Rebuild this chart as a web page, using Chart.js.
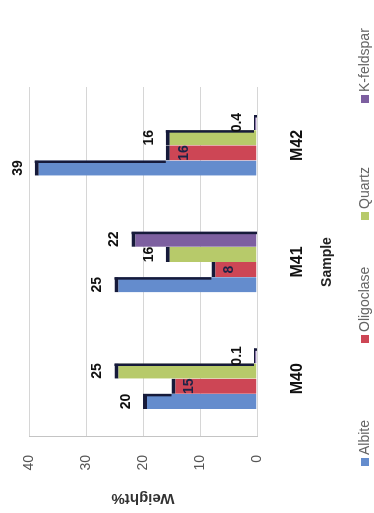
<!DOCTYPE html>
<html>
<head>
<meta charset="utf-8">
<script src="https://cdn.jsdelivr.net/npm/chart.js@4.4.0/dist/chart.umd.min.js"></script>
<style>
html, body { margin: 0; padding: 0; background: #fff; overflow: hidden; }
/* chart is drawn upright, then turned a quarter left like the scan */
#wrap { position: absolute; left: 0; top: 0; width: 513px; height: 374px;
        transform-origin: 0 0; transform: translateY(513px) rotate(-90deg); }
</style>
</head>
<body>
<div id="wrap"><canvas id="c" width="513" height="374"></canvas></div>
<script>
const samples = ['M40', 'M41', 'M42'];
const albite = [20, 25, 39];
const oligoclase = [15, 8, 16];
const quartz = [25, 16, 16];
const kfeldspar = [0.1, 22, 0.4];
const yMax = 40;
const yStep = 10;

const FONT = '"Liberation Sans", Arial, sans-serif';
Chart.defaults.font.family = FONT;
const edge = '#161a3a';

// dark side edge where a bar sticks out above its right-hand neighbour (fake 3D)
const sideEdges = {
    id: 'sideEdges',
    afterDatasetsDraw(chart) {
        const ctx = chart.ctx;
        const n = chart.data.datasets.length;
        const base = chart.scales.y.getPixelForValue(0);
        ctx.save();
        ctx.fillStyle = edge;
        for (let i = 0; i < n; i++) {
            chart.getDatasetMeta(i).data.forEach((bar, j) => {
                const stop = i < n - 1 ? chart.getDatasetMeta(i + 1).data[j].y : base;
                if (stop > bar.y) ctx.fillRect(bar.x + bar.width / 2 - 2.5, bar.y, 2.5, stop - bar.y);
            });
        }
        ctx.restore();
    }
};

// value labels: above the bar top, oligoclase ones sit just inside
const valueLabels = {
    id: 'valueLabels',
    afterDatasetsDraw(chart) {
        const ctx = chart.ctx;
        ctx.save();
        ctx.font = 'bold 14px ' + FONT;
        ctx.textAlign = 'center';
        ctx.textBaseline = 'middle';
        chart.data.datasets.forEach((ds, i) => {
            const inside = ds.label === 'Oligoclase';
            chart.getDatasetMeta(i).data.forEach((bar, j) => {
                ctx.fillStyle = inside ? '#1c2347' : '#111';
                ctx.fillText(String(ds.data[j]), bar.x, inside ? bar.y + 18 : bar.y - 17);
            });
        });
        ctx.restore();
    }
};

// legend spread out like the Excel one
const legendX = [47, 170, 293, 410];
const spreadLegend = {
    id: 'spreadLegend',
    afterDraw(chart) {
        const ctx = chart.ctx;
        const y = 365;
        ctx.save();
        ctx.font = '14px ' + FONT;
        ctx.textBaseline = 'middle';
        ctx.textAlign = 'left';
        chart.data.datasets.forEach((ds, i) => {
            ctx.fillStyle = ds.backgroundColor;
            ctx.fillRect(legendX[i], y - 4, 8, 8);
            ctx.fillStyle = '#666';
            ctx.fillText(ds.label, legendX[i] + 11, y);
        });
        ctx.restore();
    }
};

const barStyle = { borderColor: edge, borderWidth: { top: 4, right: 0, bottom: 0, left: 0 }, borderSkipped: false,
                   categoryPercentage: 0.52, barPercentage: 1.0, minBarLength: 3 };

new Chart(document.getElementById('c').getContext('2d'), {
    type: 'bar',
    data: {
        labels: samples,
        datasets: [
            { label: 'Albite', data: albite, backgroundColor: '#648ccd', ...barStyle },
            { label: 'Oligoclase', data: oligoclase, backgroundColor: '#cd4655', ...barStyle },
            { label: 'Quartz', data: quartz, backgroundColor: '#b7ca6a', ...barStyle },
            { label: 'K-feldspar', data: kfeldspar, backgroundColor: '#7d5fa0', ...barStyle }
        ]
    },
    options: {
        responsive: false,
        animation: false,
        devicePixelRatio: 1,
        layout: { padding: { left: 4, top: 29, right: 87, bottom: 36 } },
        plugins: { legend: { display: false }, tooltip: { enabled: false } },
        scales: {
            x: {
                grid: { display: false },
                border: { display: false },
                ticks: { color: '#111', font: { size: 16, weight: 'bold' }, padding: 23, maxRotation: 0 },
                title: { display: true, text: 'Sample', color: '#222', font: { size: 14, weight: 'bold' },
                         padding: { top: 20, bottom: 2 } },
                afterFit: (s) => { s.height = 81; }
            },
            y: {
                min: 0,
                max: yMax,
                grid: { color: '#d6d6d6', drawTicks: false },
                border: { display: true, color: '#c4c4c4' },
                ticks: { stepSize: yStep, color: '#555', font: { size: 14 }, padding: 18 },
                title: { display: true, text: 'Weight%', color: '#333', font: { size: 15, weight: 'bold' },
                         padding: { top: 2, bottom: 18 } },
                afterFit: (s) => { s.width = 72; }
            }
        }
    },
    plugins: [sideEdges, valueLabels, spreadLegend]
});
</script>
</body>
</html>
